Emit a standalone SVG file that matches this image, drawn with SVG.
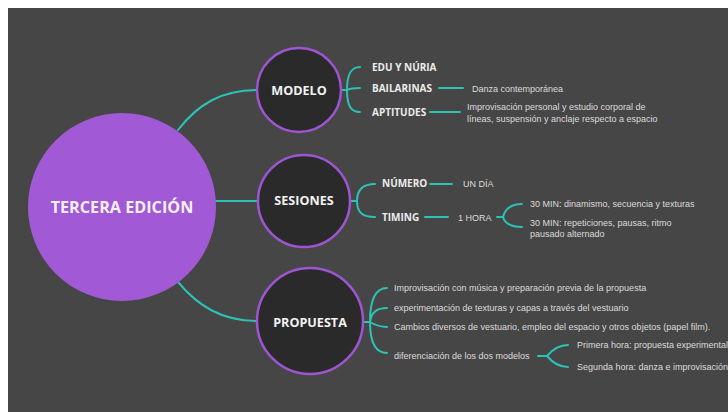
<svg xmlns="http://www.w3.org/2000/svg" width="728" height="412" viewBox="0 0 728 412">
  <style>
    .bg { fill: #464646; }
    .link { fill: none; stroke: #2cc2b5; stroke-width: 2; stroke-linecap: round; }
    .ring { fill: #2b2a2b; stroke: #9d55d2; stroke-width: 2.5; }
    .hub { fill: #a259d5; }
    .hubtxt { font-family: "Open Sans", "Liberation Sans", sans-serif; font-weight: bold; font-size: 16.2px; fill: #f4f0f6; text-anchor: middle; }
    .ntxt { font-family: "Open Sans", "Liberation Sans", sans-serif; font-weight: bold; font-size: 12.6px; fill: #f2f2f2; text-anchor: middle; }
    .lbl { font-family: "Open Sans", "Liberation Sans", sans-serif; font-weight: bold; font-size: 10px; fill: #ececec; }
    .txt { font-family: "Liberation Sans", Arial, sans-serif; font-size: 9px; fill: #dcdcdc; }
  </style>

  <rect x="0" y="0" width="728" height="412" fill="#ffffff"/>
  <rect class="bg" x="8" y="8" width="720" height="404"/>

  <!-- connectors -->
  <g id="connectors">
    <!-- hub to main topics -->
    <path class="link" d="M178,130 C198,104 222,90 257,90"/>
    <path class="link" d="M215,201 L257,201"/>
    <path class="link" d="M178,282 C198,306 222,321 257,321"/>

    <!-- MODELO branches -->
    <path class="link" d="M341,90 L347,90 C347,74 351,67 360,67"/>
    <path class="link" d="M347,90 C351,88 355,88 360,88"/>
    <path class="link" d="M347,90 C347,106 351,112 360,112"/>
    <path class="link" d="M439,88 L463,88"/>
    <path class="link" d="M430,112 L460,112"/>

    <!-- SESIONES branches -->
    <path class="link" d="M351,201 L357,201 C357,189 363,184 375,184"/>
    <path class="link" d="M357,201 C357,213 363,217 375,217"/>
    <path class="link" d="M430,184 L452,184"/>
    <path class="link" d="M425,217 L448,217"/>
    <path class="link" d="M497,217 L503,217 C505,209 511,204 522,204"/>
    <path class="link" d="M503,217 C505,224 511,227 522,227"/>

    <!-- PROPUESTA branches -->
    <path class="link" d="M363,322 L370,322 C370,300 376,288 387,288"/>
    <path class="link" d="M370,322 C371,313 377,308 387,308"/>
    <path class="link" d="M370,322 C375,325 380,327 387,327"/>
    <path class="link" d="M370,322 C370,343 376,353 387,353"/>
    <path class="link" d="M538,356 L547,356 C552,350 558,345 568,345"/>
    <path class="link" d="M547,356 C552,362 558,367 568,367"/>
  </g>

  <!-- central topic -->
  <g id="hub">
    <circle class="hub" cx="122" cy="207" r="94"/>
    <text class="hubtxt" x="122" y="213">TERCERA EDICIÓN</text>
  </g>

  <!-- MODELO -->
  <g id="modelo">
    <circle class="ring" cx="299" cy="90" r="42"/>
    <text class="ntxt" x="299" y="95">MODELO</text>
    <text class="lbl" x="372" y="71">EDU Y NÚRIA</text>
    <text class="lbl" x="372" y="92">BAILARINAS</text>
    <text class="txt" x="472" y="92">Danza contemporánea</text>
    <text class="lbl" x="372" y="116">APTITUDES</text>
    <text class="txt" x="467" y="110">Improvisación personal y estudio corporal de</text>
    <text class="txt" x="467" y="122">líneas, suspensión y anclaje respecto a espacio</text>
  </g>

  <!-- SESIONES -->
  <g id="sesiones">
    <circle class="ring" cx="304" cy="201" r="46"/>
    <text class="ntxt" x="304" y="205">SESIONES</text>
    <text class="lbl" x="382" y="187">NÚMERO</text>
    <text class="txt" x="463" y="187">UN DÍA</text>
    <text class="lbl" x="382" y="221">TIMING</text>
    <text class="txt" x="458" y="221">1 HORA</text>
    <text class="txt" x="530" y="207">30 MIN: dinamismo, secuencia y texturas</text>
    <text class="txt" x="530" y="226">30 MIN: repeticiones, pausas, ritmo</text>
    <text class="txt" x="530" y="237">pausado alternado</text>
  </g>

  <!-- PROPUESTA -->
  <g id="propuesta">
    <circle class="ring" cx="310" cy="321" r="53"/>
    <text class="ntxt" x="310" y="327">PROPUESTA</text>
    <text class="txt" x="394" y="291">Improvisación con música y preparación previa de la  propuesta</text>
    <text class="txt" x="394" y="311">experimentación de texturas y capas a través del vestuario</text>
    <text class="txt" x="394" y="330">Cambios diversos de vestuario, empleo del espacio y otros objetos (papel film).</text>
    <text class="txt" x="394" y="359">diferenciación de los dos modelos</text>
    <text class="txt" x="577" y="348">Primera hora: propuesta experimental</text>
    <text class="txt" x="577" y="370">Segunda hora: danza e improvisación</text>
  </g>
</svg>
